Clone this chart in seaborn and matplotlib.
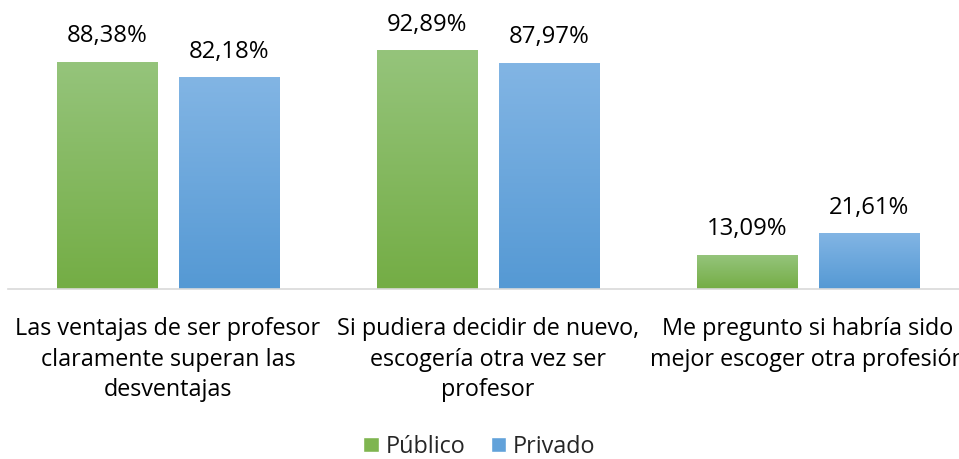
import matplotlib
matplotlib.use("Agg")
import matplotlib.pyplot as plt
import seaborn as sns
import pandas as pd
import numpy as np
from matplotlib.colors import LinearSegmentedColormap

categorias = ["Las ventajas de ser profesor\nclaramente superan las\ndesventajas",
              "Si pudiera decidir de nuevo,\nescogería otra vez ser\nprofesor",
              "Me pregunto si habría sido\nmejor escoger otra profesión"]
publico = [88.38, 92.89, 13.09]
privado = [82.18, 87.97, 21.61]
series = ["Público", "Privado"]

df = pd.DataFrame({
    "cat": categorias * 2,
    "valor": publico + privado,
    "serie": [series[0]] * 3 + [series[1]] * 3,
})

sns.set_style("white")
plt.rcParams['font.family'] = ['Open Sans', 'DejaVu Sans']
fs = 16.8

fig = plt.figure(figsize=(9.59, 4.59), dpi=100)
ax = fig.add_axes([8 / 959, 170 / 459, 960 / 959, 256.8 / 459])

colores = {"Público": "#7fb550", "Privado": "#62a2da"}
sns.barplot(data=df, x="cat", y="valor", hue="serie", palette=colores,
            width=0.7625, gap=0.18, ax=ax, legend=False)

# degradado tipo Excel en cada barra
grad = {"Público": ("#74ad45", "#95c47b"), "Privado": ("#5599d4", "#82b5e4")}
for cont, s in zip(ax.containers, series):
    cmap = LinearSegmentedColormap.from_list(s, grad[s])
    for bar, v in zip(cont, df.loc[df.serie == s, "valor"]):
        x0, y0 = bar.get_x(), bar.get_y()
        w, h = bar.get_width(), bar.get_height()
        bar.set_facecolor("none")
        ax.imshow(np.linspace(0, 1, 100).reshape(-1, 1), cmap=cmap, origin="lower",
                  extent=(x0, x0 + w, y0, y0 + h), aspect="auto", zorder=2)
        ax.annotate(f"{v:.2f}%".replace(".", ","), (x0 + w / 2, y0 + h),
                    xytext=(0, 10), textcoords="offset points",
                    ha="center", va="bottom", fontsize=17.2, color="#000000")

ax.set_xlim(-0.5, 2.5)
ax.set_ylim(0, 100)
ax.set_yticks([])
ax.set_xlabel("")
ax.set_ylabel("")
for side in ["top", "right", "left"]:
    ax.spines[side].set_visible(False)
ax.spines["bottom"].set_color("#d9d9d9")
ax.spines["bottom"].set_linewidth(1.2)
ax.tick_params(axis="x", length=0, pad=20, labelsize=fs, colors="#000000")
for t in ax.get_xticklabels():
    t.set_linespacing(1.38)

handles = [plt.Rectangle((0, 0), 1, 1, facecolor=colores[s]) for s in series]
fig.legend(handles, series, loc="center", bbox_to_anchor=(0.5, 0.027), ncol=2,
           frameon=False, fontsize=fs, handlelength=0.65, handleheight=0.65,
           handletextpad=0.3, columnspacing=1.1, borderpad=0)

fig.savefig("out.png", dpi=100)
